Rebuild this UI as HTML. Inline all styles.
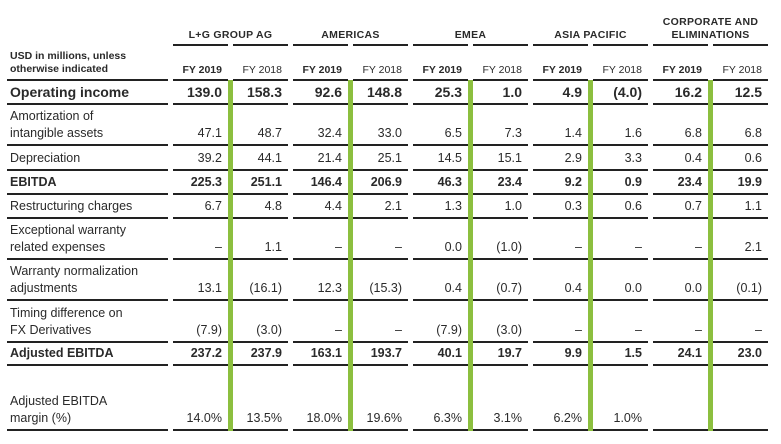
<!DOCTYPE html>
<html><head><meta charset="utf-8"><style>
body{margin:0;width:781px;height:444px;background:#fff;position:relative;overflow:hidden;font-family:"Liberation Sans",sans-serif;color:#2a2a2a}
.l{position:absolute;height:1.5px;background:#222}
.g{position:absolute;width:5px;background:#8cbf3f;top:80px;height:351px}
.t{position:absolute;white-space:nowrap;font-size:12.5px;line-height:17px}
.r{text-align:right}
.b{font-weight:bold}
.h{font-size:10.5px;font-weight:bold;letter-spacing:0.3px;text-align:center;line-height:13px}
</style></head><body>
<script>
const cols=[[173,228],[233,288],[293,348],[353,408],[413,468],[473,528],[533,588],[593,648],[653,708],[713,768]];
const rows=[
 ["Operating income",80,104,1,["139.0","158.3","92.6","148.8","25.3","1.0","4.9","(4.0)","16.2","12.5"]],
 ["Amortization of<br>intangible assets",104,145,0,["47.1","48.7","32.4","33.0","6.5","7.3","1.4","1.6","6.8","6.8"]],
 ["Depreciation",145,170,0,["39.2","44.1","21.4","25.1","14.5","15.1","2.9","3.3","0.4","0.6"]],
 ["EBITDA",170,194,1,["225.3","251.1","146.4","206.9","46.3","23.4","9.2","0.9","23.4","19.9"]],
 ["Restructuring charges",194,218,0,["6.7","4.8","4.4","2.1","1.3","1.0","0.3","0.6","0.7","1.1"]],
 ["Exceptional warranty<br>related expenses",218,259,0,["–","1.1","–","–","0.0","(1.0)","–","–","–","2.1"]],
 ["Warranty normalization<br>adjustments",259,300,0,["13.1","(16.1)","12.3","(15.3)","0.4","(0.7)","0.4","0.0","0.0","(0.1)"]],
 ["Timing difference on<br>FX Derivatives",300,342,0,["(7.9)","(3.0)","–","–","(7.9)","(3.0)","–","–","–","–"]],
 ["Adjusted EBITDA",342,365,1,["237.2","237.9","163.1","193.7","40.1","19.7","9.9","1.5","24.1","23.0"]],
 ["Adjusted EBITDA<br>margin (%)",365,430,0,["14.0%","13.5%","18.0%","19.6%","6.3%","3.1%","6.2%","1.0%","",""]]
];
let h="";
const line=(x1,x2,y)=>h+=`<div class="l" style="left:${x1}px;width:${x2-x1}px;top:${y-1}px"></div>`;
const gh=[["L+G GROUP AG",173,288],["AMERICAS",293,408],["EMEA",413,528],["ASIA PACIFIC",533,648],["CORPORATE AND<br>ELIMINATIONS",653,768]];
gh.forEach(g=>{h+=`<div class="t h" style="left:${g[1]}px;width:${g[2]-g[1]}px;bottom:${444-42}px">${g[0]}</div>`;line(g[1],228+(g[1]-173),45);line(233+(g[1]-173),g[2],45);});
h+=`<div class="t b" style="left:10px;top:50px;font-size:10.5px;line-height:13px">USD in millions, unless<br>otherwise indicated</div>`;
cols.forEach((c,i)=>{h+=`<div class="t ${i%2?'':'b'}" style="left:${c[0]}px;width:${c[1]-c[0]-6}px;top:62px;font-size:10.5px;text-align:right">${i%2?'FY 2018':'FY 2019'}</div>`;line(c[0],c[1],80);});
line(7,168,80);
rows.forEach(r=>{
 const [lab,t,b,bold,v]=r;
 const fs=lab=="Operating income"?'font-size:14px;':'';
 h+=`<div class="t ${bold?'b':''}" style="left:10px;bottom:${444-b+3}px;${fs}">${lab}</div>`;
 line(7,168,b);
 cols.forEach((c,i)=>{h+=`<div class="t r ${bold?'b':''}" style="left:${c[0]}px;width:${c[1]-c[0]-6}px;bottom:${444-b+3}px;${fs}">${v[i]}</div>`;line(c[0],c[1],b);});
});
[228,348,468,588,708].forEach(x=>h+=`<div class="g" style="left:${x}px"></div>`);
document.body.innerHTML=h;
</script>
</body></html>
